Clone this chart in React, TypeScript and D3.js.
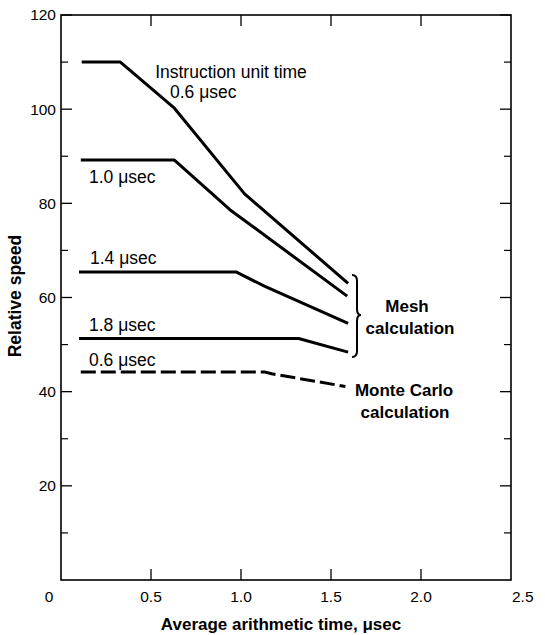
import React from "react";
import * as d3 from "d3";

// ---- data ----
const xTicks = [0.5, 1.0, 1.5, 2.0];
const xTickLabels = ["0.5", "1.0", "1.5", "2.0"];
const yMajorTicks = [20, 40, 60, 80, 100, 120];
const yMinorTicks = [10, 30, 50, 70, 90, 110];

const mesh06X = [0.115, 0.33, 0.63, 1.02, 1.595];
const mesh06Y = [110, 110, 100.2, 82, 63];
const mesh10X = [0.11, 0.63, 0.94, 1.59];
const mesh10Y = [89.2, 89.2, 78.6, 60.3];
const mesh14X = [0.1, 0.975, 1.13, 1.595];
const mesh14Y = [65.4, 65.4, 62.4, 54.5];
const mesh18X = [0.1, 1.32, 1.595];
const mesh18Y = [51.3, 51.3, 48.4];
const monteX = [0.11, 1.13, 1.17, 1.58];
const monteY = [44.2, 44.2, 43.8, 41.1];

const seriesNames = ["0.6 μsec", "1.0 μsec", "1.4 μsec", "1.8 μsec", "0.6 μsec"];

const W = 545;
const H = 635;
const left = 61, right = 511, top = 15, bottom = 580;

const x = d3.scaleLinear().domain([0, 2.5]).range([left, right]);
const y = d3.scaleLinear().domain([0, 120]).range([bottom, top]);

const zip = (xs: number[], ys: number[]) => xs.map((v, i) => [v, ys[i]] as [number, number]);
const line = d3.line<[number, number]>().x(d => x(d[0])).y(d => y(d[1]));

const series = [
  { pts: zip(mesh06X, mesh06Y), dashed: false },
  { pts: zip(mesh10X, mesh10Y), dashed: false },
  { pts: zip(mesh14X, mesh14Y), dashed: false },
  { pts: zip(mesh18X, mesh18Y), dashed: false },
  { pts: zip(monteX, monteY), dashed: true },
];

const font = "'Liberation Sans', Arial, sans-serif";

export default function App() {
  return (
    <svg width={W} height={H} style={{ position: "absolute", left: 0, top: 0, background: "#fff" }} fontFamily={font}>
      <rect x={0} y={0} width={W} height={H} fill="#fff" />
      {/* frame */}
      <rect x={left} y={top} width={right - left} height={bottom - top} fill="none" stroke="#000" strokeWidth={1.6} />
      {/* y ticks */}
      {yMajorTicks.map(t => (
        <g key={"ym" + t}>
          <line x1={left} x2={left + 11} y1={y(t)} y2={y(t)} stroke="#000" strokeWidth={1.3} />
          <line x1={right} x2={right - 11} y1={y(t)} y2={y(t)} stroke="#000" strokeWidth={1.3} />
          <text x={56} y={y(t)} dy="0.35em" textAnchor="end" fontSize={15.5}>{t}</text>
        </g>
      ))}
      {yMinorTicks.map(t => (
        <g key={"yn" + t}>
          <line x1={left} x2={left + 7} y1={y(t)} y2={y(t)} stroke="#000" strokeWidth={1.2} />
          <line x1={right} x2={right - 7} y1={y(t)} y2={y(t)} stroke="#000" strokeWidth={1.2} />
        </g>
      ))}
      {/* x ticks */}
      {xTicks.map((t, i) => (
        <g key={"x" + t}>
          <line x1={x(t)} x2={x(t)} y1={bottom} y2={bottom - 11} stroke="#000" strokeWidth={1.3} />
          <line x1={x(t)} x2={x(t)} y1={top} y2={top + 11} stroke="#000" strokeWidth={1.3} />
          <text x={x(t)} y={602} textAnchor="middle" fontSize={15.5}>{xTickLabels[i]}</text>
        </g>
      ))}
      <text x={x(0) - 12} y={602} textAnchor="middle" fontSize={15.5}>0</text>
      <text x={x(2.5) + 1} y={602} textAnchor="start" fontSize={15.5}>2.5</text>

      {/* axis titles */}
      <text x={281} y={630} textAnchor="middle" fontSize={17} fontWeight="bold">Average arithmetic time, μsec</text>
      <text transform="translate(21,296) rotate(-90)" textAnchor="middle" fontSize={17.5} fontWeight="bold">Relative speed</text>

      {/* lines */}
      {series.map((s, i) => (
        <path key={i} d={line(s.pts) || ""} fill="none" stroke="#000" strokeWidth={3}
          strokeDasharray={s.dashed ? "15 5" : undefined} strokeLinejoin="round" />
      ))}

      {/* annotations */}
      <text x={231} y={78} textAnchor="middle" fontSize={17.5}>Instruction unit time</text>
      <text x={170} y={98} fontSize={17.5}>{seriesNames[0]}</text>
      <text x={89} y={183} fontSize={17.5}>{seriesNames[1]}</text>
      <text x={90} y={264} fontSize={17.5}>{seriesNames[2]}</text>
      <text x={89} y={331} fontSize={17.5}>{seriesNames[3]}</text>
      <text x={89} y={366} fontSize={17.5}>{seriesNames[4]}</text>

      {/* brace */}
      <path d="M352,275 Q357,275 357,281 L357,309 Q357,315 361,315 Q357,315 357,321 L357,351 Q357,357 352,357"
        fill="none" stroke="#000" strokeWidth={2} />
      <text x={407} y={312} textAnchor="middle" fontSize={17} fontWeight="bold">Mesh</text>
      <text x={410} y={334} textAnchor="middle" fontSize={17} fontWeight="bold">calculation</text>
      <text x={404} y={396} textAnchor="middle" fontSize={17} fontWeight="bold">Monte Carlo</text>
      <text x={405} y={418} textAnchor="middle" fontSize={17} fontWeight="bold">calculation</text>
    </svg>
  );
}
